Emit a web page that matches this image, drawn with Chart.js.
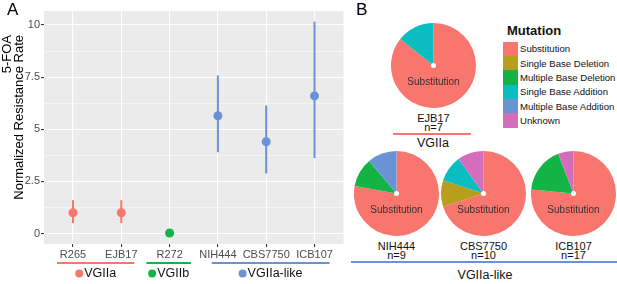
<!DOCTYPE html>
<html>
<head>
<meta charset="utf-8">
<script src="https://cdn.jsdelivr.net/npm/chart.js@4.4.0/dist/chart.umd.min.js"></script>
<style>
  body { margin: 0; background: #fff; font-family: "Liberation Sans", Arial, sans-serif; }
  #wrap { position: relative; width: 617px; height: 284px; overflow: hidden; }
  canvas, .abs { position: absolute; }
  .panel { font-size: 17px; color: #000; line-height: 20px; }
  .strain { font-size: 11px; line-height: 9px; text-align: center; width: 80px; color: #111; }
  .grp { font-size: 12.5px; line-height: 14px; text-align: center; color: #111; }
  .gline { height: 2px; }
  #legend { left: 503px; top: 24px; width: 114px; font-size: 9.6px; color: #111; white-space: nowrap; }
  #legend .title { font-weight: bold; font-size: 13px; margin-left: 4px; height: 17.5px; line-height: 14px; }
  #legend .item { height: 14.4px; display: flex; align-items: center; }
  #legend .key { flex: none; width: 14.5px; height: 14.4px; margin-right: 2.5px; }
</style>
</head>
<body>
<div id="wrap">
  <canvas id="chartA" width="348" height="284" style="left:0;top:0"></canvas>
  <div class="abs panel" style="left:7px;top:0px">A</div>
  <div class="abs panel" style="left:356px;top:0px">B</div>
  <canvas id="pieEJB17" width="85" height="85" style="left:391px;top:23px"></canvas>
  <canvas id="pieNIH444" width="85" height="85" style="left:354px;top:151px"></canvas>
  <canvas id="pieCBS7750" width="85" height="85" style="left:441px;top:151px"></canvas>
  <canvas id="pieICB107" width="85" height="85" style="left:531px;top:151px"></canvas>
  <div id="legend" class="abs"></div>
  <div class="abs gline" style="left:393px;top:133px;width:78px;background:#F8766D"></div>
  <div class="abs grp" style="left:393px;top:136px;width:80px">VGIIa</div>
  <div class="abs gline" style="left:351px;top:261px;width:266px;background:#6A93D6"></div>
  <div class="abs grp" style="left:435px;top:267.5px;width:100px">VGIIa-like</div>
</div>
<script>
// panel A data
const strains = ['R265', 'EJB17', 'R272', 'NIH444', 'CBS7750', 'ICB107'];
const strainGroup = ['VGIIa', 'VGIIa', 'VGIIb', 'VGIIa-like', 'VGIIa-like', 'VGIIa-like'];
const rateMean = [1.0, 1.0, 0.03, 5.65, 4.4, 6.6];
const rateLow = [0.5, 0.5, 0.0, 3.9, 2.88, 3.62];
const rateHigh = [1.6, 1.6, 0.06, 7.58, 6.14, 10.16];

const groups = ['VGIIa', 'VGIIb', 'VGIIa-like'];
const groupColors = ['#F8766D', '#13B445', '#6A93D6'];

// panel B data
const mutationTypes = ['Substitution', 'Single Base Deletion', 'Multiple Base Deletion',
  'Single Base Addition', 'Multiple Base Addition', 'Unknown'];
const mutationColors = ['#F8766D', '#B79F1C', '#13B445', '#0ABDC1', '#6A93D6', '#D46DBB'];
const countsEJB17 = [6, 0, 0, 1, 0, 0];
const countsNIH444 = [7, 0, 1, 0, 1, 0];
const countsCBS7750 = [7, 1, 0, 1, 0, 1];
const countsICB107 = [13, 0, 3, 0, 0, 1];

// where the group underlines sit under panel A, in x-axis units
const groupSpanA = [[0.67, 2.27], [2.52, 3.44], [3.87, 6.31]];

Chart.defaults.font.family = '"Liberation Sans", Arial, sans-serif';

const colorOf = g => groupColors[groups.indexOf(g)];
const isMajor = v => Math.abs(v / 2.5 - Math.round(v / 2.5)) < 1e-6;

const panelBg = {
    id: 'panelBg',
    beforeDraw(chart) {
        const { ctx, chartArea: a } = chart;
        ctx.save();
        ctx.fillStyle = '#EBEBEB';
        ctx.fillRect(a.left, a.top, a.right - a.left, a.bottom - a.top);
        ctx.restore();
    }
};

const errorBars = {
    id: 'errorBars',
    beforeDatasetsDraw(chart) {
        const { ctx, scales: { x, y } } = chart;
        ctx.save();
        ctx.lineWidth = 2;
        strains.forEach((s, i) => {
            const px = x.getPixelForValue(i + 1);
            ctx.strokeStyle = colorOf(strainGroup[i]);
            ctx.beginPath();
            ctx.moveTo(px, y.getPixelForValue(rateLow[i]));
            ctx.lineTo(px, y.getPixelForValue(rateHigh[i]));
            ctx.stroke();
        });
        ctx.restore();
    }
};

const groupAnnot = {
    id: 'groupAnnot',
    afterDraw(chart) {
        const { ctx, scales: { x }, chartArea } = chart;
        const lineY = chartArea.bottom + 19;
        const textY = chartArea.bottom + 29.5;
        ctx.save();
        ctx.font = '12.5px "Liberation Sans", Arial, sans-serif';
        ctx.textBaseline = 'middle';
        groups.forEach((g, k) => {
            const x0 = x.getPixelForValue(groupSpanA[k][0]);
            const x1 = x.getPixelForValue(groupSpanA[k][1]);
            ctx.strokeStyle = groupColors[k];
            ctx.lineWidth = 2;
            ctx.beginPath();
            ctx.moveTo(x0, lineY);
            ctx.lineTo(x1, lineY);
            ctx.stroke();
            const tw = ctx.measureText(g).width;
            const r = 4;
            const start = (x0 + x1) / 2 - (2 * r + 1 + tw) / 2;
            ctx.fillStyle = groupColors[k];
            ctx.beginPath();
            ctx.arc(start + r, textY, r, 0, Math.PI * 2);
            ctx.fill();
            ctx.fillStyle = '#111';
            ctx.textAlign = 'left';
            ctx.fillText(g, start + 2 * r + 1, textY + 0.5);
        });
        ctx.restore();
    }
};

const yTitle = {
    id: 'yTitle',
    afterDraw(chart) {
        const { ctx } = chart;
        ctx.save();
        ctx.font = '13px "Liberation Sans", Arial, sans-serif';
        ctx.fillStyle = '#000';
        ctx.textAlign = 'right';
        ctx.textBaseline = 'alphabetic';
        [['5-FOA', 10.7], ['Normalized Resistance Rate', 22.7]].forEach(([t, bx]) => {
            ctx.save();
            ctx.translate(bx, 35);
            ctx.rotate(-Math.PI / 2);
            ctx.fillText(t, 0, 0);
            ctx.restore();
        });
        ctx.restore();
    }
};

new Chart(document.getElementById('chartA'), {
    type: 'scatter',
    data: {
        datasets: [{
            data: strains.map((s, i) => ({ x: i + 1, y: rateMean[i] })),
            backgroundColor: strainGroup.map(colorOf),
            borderWidth: 0,
            pointRadius: 4.5,
            pointHoverRadius: 4.5
        }]
    },
    options: {
        responsive: false,
        animation: false,
        events: [],
        layout: { padding: { top: 11, right: 2, left: 0, bottom: 0 } },
        plugins: { legend: { display: false }, tooltip: { enabled: false } },
        scales: {
            x: {
                type: 'linear',
                min: 0.4,
                max: 6.6,
                afterBuildTicks: s => { s.ticks = strains.map((_, i) => ({ value: i + 1 })); },
                afterFit: s => { s.height = 40; },
                border: { display: false },
                grid: { color: '#FFFFFF', lineWidth: 1.1, tickLength: 3, tickColor: '#333333' },
                ticks: {
                    autoSkip: false,
                    maxRotation: 0,
                    padding: 1,
                    color: '#4D4D4D',
                    font: { size: 11 },
                    callback: v => strains[Math.round(v) - 1]
                }
            },
            y: {
                min: -0.5,
                max: 10.67,
                afterFit: s => { s.width = 44; },
                border: { display: false },
                grid: {
                    color: '#FFFFFF',
                    lineWidth: c => (c.tick && isMajor(c.tick.value)) ? 1.1 : 0.5,
                    tickLength: 3,
                    tickColor: c => (c.tick && isMajor(c.tick.value)) ? '#333333' : 'rgba(0,0,0,0)'
                },
                ticks: {
                    stepSize: 1.25,
                    includeBounds: false,
                    padding: 1,
                    color: '#4D4D4D',
                    font: { size: 11 },
                    callback: v => isMajor(v) ? String(v) : ''
                }
            }
        }
    },
    plugins: [panelBg, errorBars, groupAnnot, yTitle]
});

const pieCenter = {
    id: 'pieCenter',
    afterDraw(chart) {
        const { ctx } = chart;
        const arc = chart.getDatasetMeta(0).data[0];
        ctx.save();
        ctx.fillStyle = '#FFFFFF';
        ctx.beginPath();
        ctx.arc(arc.x, arc.y, 2.5, 0, Math.PI * 2);
        ctx.fill();
        ctx.fillStyle = '#3a3030';
        ctx.font = '10px "Liberation Sans", Arial, sans-serif';
        ctx.textAlign = 'center';
        ctx.textBaseline = 'middle';
        ctx.fillText(mutationTypes[0], arc.x, arc.y + 17);
        ctx.restore();
    }
};

const pies = [
    ['EJB17', countsEJB17],
    ['NIH444', countsNIH444],
    ['CBS7750', countsCBS7750],
    ['ICB107', countsICB107]
];

const wrap = document.getElementById('wrap');
pies.forEach(([name, counts]) => {
    const canvas = document.getElementById('pie' + name);
    new Chart(canvas, {
        type: 'pie',
        data: {
            labels: mutationTypes,
            datasets: [{ data: counts, backgroundColor: mutationColors, borderWidth: 0, hoverOffset: 0 }]
        },
        options: {
            responsive: false,
            animation: false,
            events: [],
            layout: { padding: 0 },
            plugins: { legend: { display: false }, tooltip: { enabled: false } }
        },
        plugins: [pieCenter]
    });
    // strain name and sample size under each pie
    const lab = document.createElement('div');
    lab.className = 'abs strain';
    const cx = parseFloat(canvas.style.left) + 42.5;
    lab.style.left = (cx - 40) + 'px';
    lab.style.top = (parseFloat(canvas.style.top) + 91) + 'px';
    lab.innerHTML = name + '<br>n=' + counts.reduce((a, b) => a + b, 0);
    wrap.appendChild(lab);
});

// legend for the mutation types
const legend = document.getElementById('legend');
legend.innerHTML = '<div class="title">Mutation</div>' + mutationTypes.map((m, i) =>
    '<div class="item"><span class="key" style="background:' + mutationColors[i] + '"></span>' + m + '</div>'
).join('');
</script>
</body>
</html>
